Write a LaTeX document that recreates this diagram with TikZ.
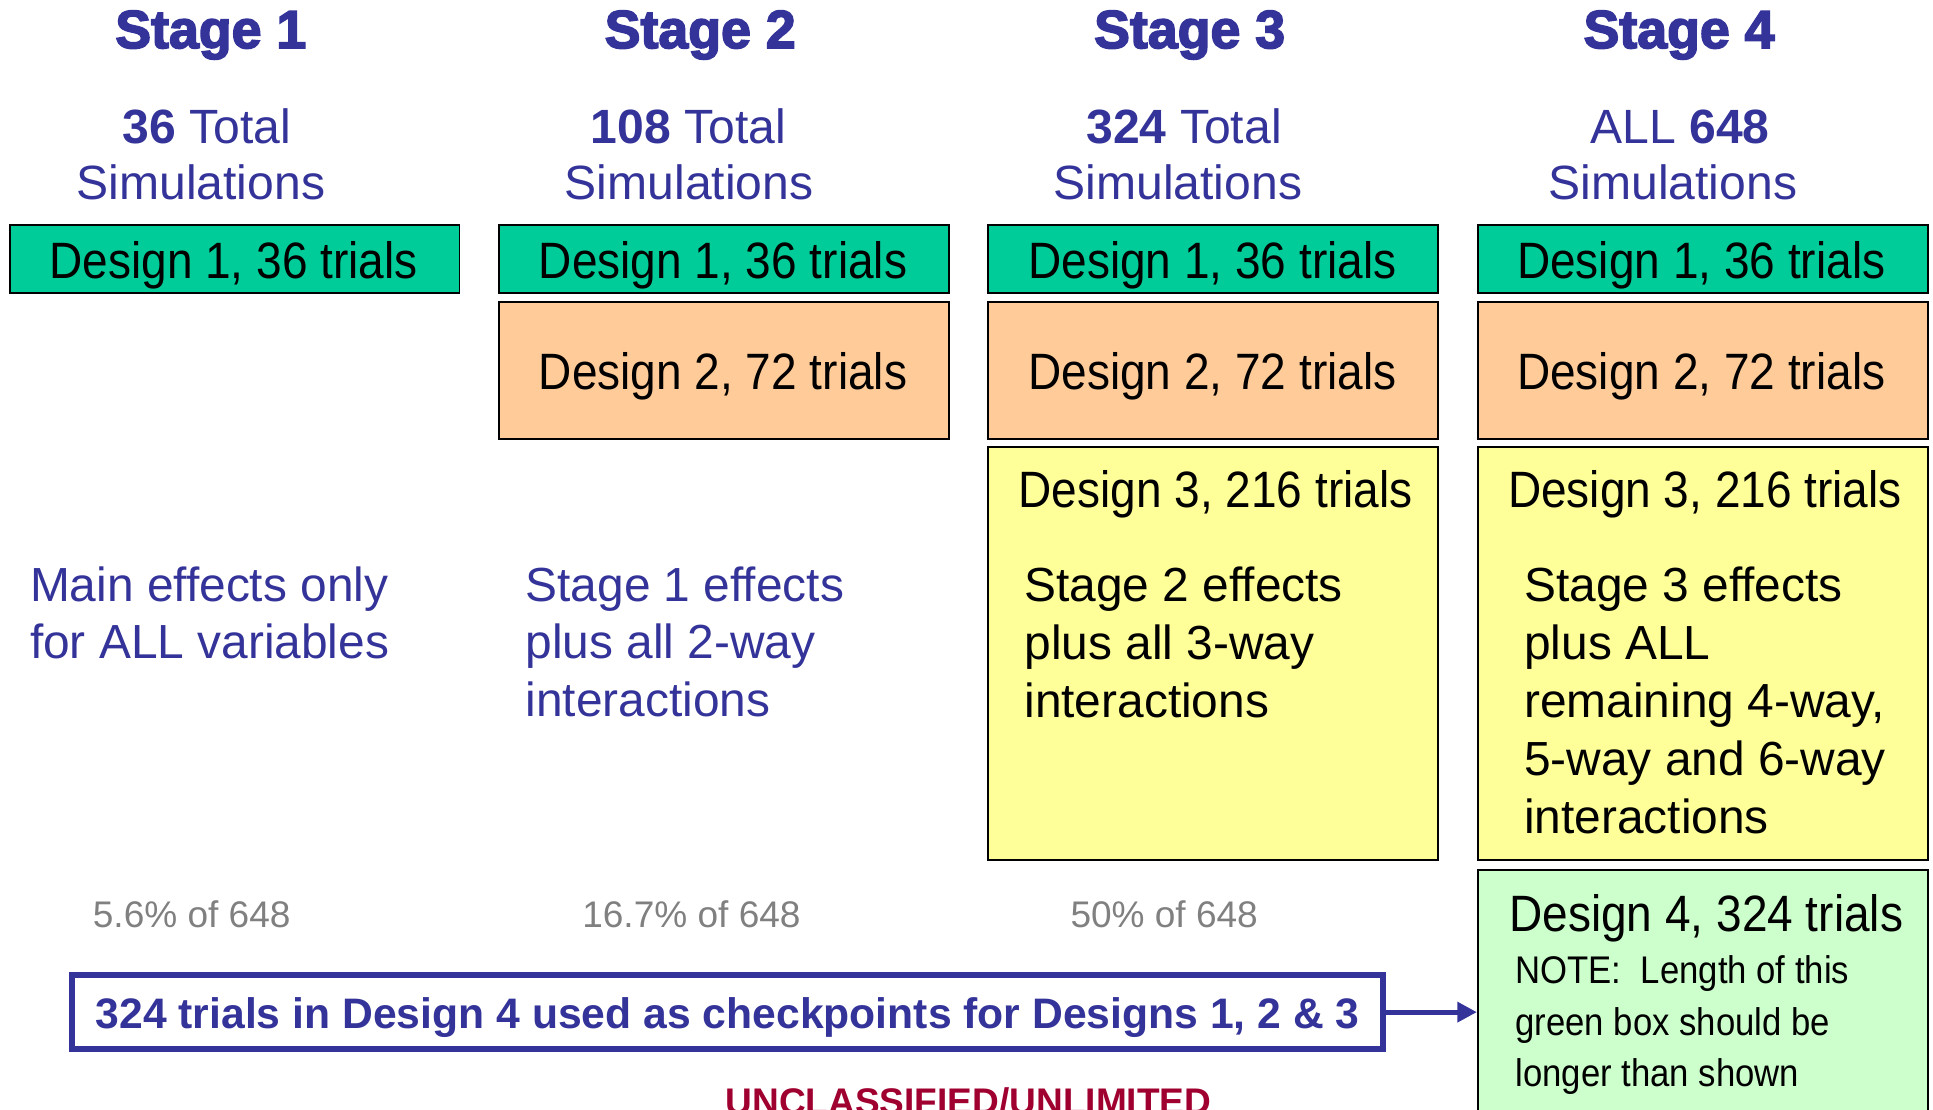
\documentclass[tikz,border=0pt]{standalone}
\usepackage{fontspec}
\setmainfont{Liberation Sans}
\newfontfamily\narrowfont[FakeStretch=0.9]{Liberation Sans}
\newfontfamily\heavyfont[BoldFeatures={FakeBold=3}]{Liberation Sans}
\usetikzlibrary{arrows.meta}
\definecolor{stageblue}{HTML}{333399}
\definecolor{dgreen}{HTML}{00CC99}
\definecolor{dorange}{HTML}{FFCC99}
\definecolor{dyellow}{HTML}{FFFF99}
\definecolor{dlight}{HTML}{CCFFCC}
\definecolor{unclred}{HTML}{A00030}
\definecolor{sharegray}{HTML}{808080}

\begin{document}
\begin{tikzpicture}[x=0.02cm,y=-0.02cm,
  every node/.style={inner sep=0pt},
  stagehd/.style={anchor=base,text=stageblue,font=\heavyfont\bfseries\fontsize{24.8}{30}\selectfont},
  total/.style={anchor=base,text=stageblue,font=\fontsize{22.2}{26.6}\selectfont},
  effect/.style={anchor=base west,text=stageblue,font=\fontsize{22.1}{26.6}\selectfont},
  yeffect/.style={effect,text=black},
  dbox/.style={draw=black,line width=0.9pt,anchor=north west,minimum width=7.3cm},
  dlabel/.style={anchor=base,font=\narrowfont\fontsize{23.6}{28}\selectfont},
  notetxt/.style={anchor=base west,font=\narrowfont\fontsize{17.8}{22}\selectfont},
  share/.style={anchor=base west,text=sharegray,font=\fontsize{17.1}{20}\selectfont}]
        \clip (0,0) rectangle (1568,900);

        % stage headings
        \path
        (171,39) node[stagehd] (st1) {Stage 1}
        (568,39) node[stagehd] (st2) {Stage 2}
        (965,39) node[stagehd] (st3) {Stage 3}
        (1362,39) node[stagehd] (st4) {Stage 4}
        ;
        \path
        (167.6,116) node[total] (tot1) {\textbf{36} Total}
        (558.5,116) node[total] (tot2) {\textbf{108} Total}
        (960.5,116) node[total] (tot3) {\textbf{324} Total}
        (1362.7,116) node[total] (tot4) {ALL \textbf{648}}
        (163,162) node[total] (sim1) {Simulations}
        (559,162) node[total] (sim2) {Simulations}
        (955.5,162) node[total] (sim3) {Simulations}
        (1357,162) node[total] (sim4) {Simulations}
        ;

        % design boxes
        \path
        (7,182) node[dbox,fill=dgreen,minimum height=1.1cm] (d1a) {}
        (404,182) node[dbox,fill=dgreen,minimum height=1.1cm] (d1b) {}
        (801,182) node[dbox,fill=dgreen,minimum height=1.1cm] (d1c) {}
        (1198,182) node[dbox,fill=dgreen,minimum height=1.1cm] (d1d) {}
        (404,244) node[dbox,fill=dorange,minimum height=2.22cm] (d2b) {}
        (801,244) node[dbox,fill=dorange,minimum height=2.22cm] (d2c) {}
        (1198,244) node[dbox,fill=dorange,minimum height=2.22cm] (d2d) {}
        (801,362) node[dbox,fill=dyellow,minimum height=6.7cm] (d3c) {}
        (1198,362) node[dbox,fill=dyellow,minimum height=6.7cm] (d3d) {}
        (1198,705) node[dbox,fill=dlight,minimum height=5cm] (d4d) {}
        ;
        \path
        (189.5,226) node[dlabel] (l1a) {Design 1, 36 trials}
        (586.5,226) node[dlabel] (l1b) {Design 1, 36 trials}
        (983.5,226) node[dlabel] (l1c) {Design 1, 36 trials}
        (1380,226) node[dlabel] (l1d) {Design 1, 36 trials}
        (586.5,316) node[dlabel] (l2b) {Design 2, 72 trials}
        (983.5,316) node[dlabel] (l2c) {Design 2, 72 trials}
        (1380,316) node[dlabel] (l2d) {Design 2, 72 trials}
        (986,412) node[dlabel] (l3c) {Design 3, 216 trials}
        (1383,412) node[dlabel] (l3d) {Design 3, 216 trials}
        (1224,756) node[dlabel,anchor=base west] (l4d) {Design 4, 324 trials}
        ;
        \path
        (1229,797.6) node[notetxt] (n1) {NOTE:~ Length of this}
        (1229,839.6) node[notetxt] (n2) {green box should be}
        (1229,881.5) node[notetxt] (n3) {longer than shown}
        ;

        % effects per stage
        \path
        (24,488) node[effect] (e1a) {Main effects only}
        (24,534) node[effect] (e1b) {for ALL variables}
        (426,488) node[effect] (e2a) {Stage 1 effects}
        (426,534) node[effect] (e2b) {plus all 2-way}
        (426,581) node[effect] (e2c) {interactions}
        (830.6,488) node[yeffect] (e3a) {Stage 2 effects}
        (830.6,535) node[yeffect] (e3b) {plus all 3-way}
        (830.6,582) node[yeffect] (e3c) {interactions}
        (1236,488) node[yeffect] (e4a) {Stage 3 effects}
        (1236,535) node[yeffect] (e4b) {plus ALL}
        (1236,582) node[yeffect] (e4c) {remaining 4-way,}
        (1236,629) node[yeffect] (e4d) {5-way and 6-way}
        (1236,676) node[yeffect] (e4e) {interactions}
        ;
        \path
        (75,752) node[share] (p1) {5.6\% of 648}
        (472,752) node[share] (p2) {16.7\% of 648}
        (868,752) node[share] (p3) {50\% of 648}
        ;

        % checkpoint box
        \node[draw=stageblue,line width=2.8pt,minimum width=21.27cm,minimum height=1.2cm] (chk) at (590.3,821) {};
        \node[anchor=base,text=stageblue,font=\bfseries\fontsize{19.7}{24}\selectfont] (chktxt) at (590.3,834)
        {324 trials in Design 4 used as checkpoints for Designs 1, 2 \& 3};
        \draw[stageblue,line width=2.2pt,-{Triangle[length=9pt,width=9pt]}] (chk.east) -- (chk.east -| d4d.west);

        \node[anchor=base,text=unclred,font=\bfseries\fontsize{17.1}{20}\selectfont] (uncl) at (785.6,904.3) {UNCLASSIFIED/UNLIMITED};
\end{tikzpicture}
\end{document}
